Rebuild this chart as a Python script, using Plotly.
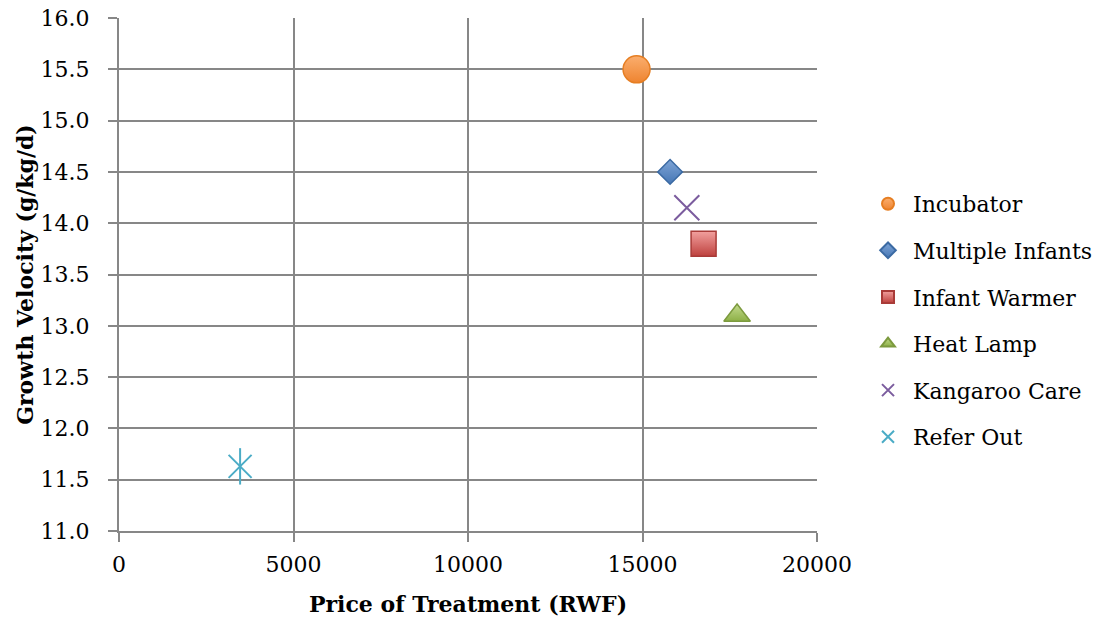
import plotly.graph_objects as go

# Treatment options: price (RWF) vs. growth velocity (g/kg/d)
treatments = ["Incubator", "Multiple Infants", "Infant Warmer", "Heat Lamp", "Kangaroo Care", "Refer Out"]
price_rwf = [14830, 15790, 16750, 17710, 16270, 3470]
growth_velocity = [15.5, 14.5, 13.8, 13.1, 14.15, 11.63]

x_ticks = [0, 5000, 10000, 15000, 20000]
y_ticks = [11.0, 11.5, 12.0, 12.5, 13.0, 13.5, 14.0, 14.5, 15.0, 15.5, 16.0]

styles = {
    "Incubator": dict(symbol="circle", size=27, color="#FBAE6E",
                      gradient=dict(type="vertical", color="#EE8430"),
                      line=dict(color="#E67E22", width=1.5)),
    "Multiple Infants": dict(symbol="diamond", size=19, color="#7EA4D6",
                             gradient=dict(type="vertical", color="#4677B5"),
                             line=dict(color="#3B6AA3", width=1.5)),
    "Infant Warmer": dict(symbol="square", size=25, color="#F2A09E",
                          gradient=dict(type="vertical", color="#BE413E"),
                          line=dict(color="#A93B38", width=1.5)),
    "Heat Lamp": dict(symbol="triangle-up", size=23, color="#C3DB8E",
                      gradient=dict(type="vertical", color="#8DB046"),
                      line=dict(color="#7C9A3E", width=1.5)),
    "Kangaroo Care": dict(symbol="x-thin-open", size=25, color="#7B5C9E",
                          line=dict(color="#7B5C9E", width=2)),
    "Refer Out": dict(symbol="x-thin-open", size=23, color="#4BACC6",
                      line=dict(color="#4BACC6", width=2)),
}

font_family = "DejaVu Serif"
fig = go.Figure()

for name, px, gv in zip(treatments, price_rwf, growth_velocity):
    fig.add_trace(go.Scatter(
        x=[px], y=[gv], mode="markers", name=name,
        legendgroup=name, marker=styles[name],
    ))
    if name == "Refer Out":
        # vertical stroke completes the star marker
        fig.add_trace(go.Scatter(
            x=[px], y=[gv], mode="markers", showlegend=False, legendgroup=name,
            marker=dict(symbol="line-ns-open", size=26, color="#4BACC6",
                        line=dict(color="#4BACC6", width=2)),
        ))

axis_common = dict(
    showgrid=True, gridcolor="#878787", gridwidth=2,
    showline=True, linecolor="#878787", linewidth=2,
    ticks="outside", ticklen=9, tickcolor="#878787", tickwidth=2,
    zeroline=False, automargin=False,
    tickfont=dict(family=font_family, size=22, color="#000000"),
)

fig.update_xaxes(
    range=[0, 20000], tickvals=x_ticks, ticktext=[str(v) for v in x_ticks],
    ticklabelstandoff=4,
    title=dict(text="<b>Price of Treatment (RWF)</b>",
               font=dict(family=font_family, size=22, color="#000000"), standoff=20),
    **axis_common,
)
fig.update_yaxes(
    range=[11.0, 16.0], tickvals=y_ticks, ticktext=[f"{v:.1f}" for v in y_ticks],
    ticklabelstandoff=14,
    title=dict(text="<b>Growth Velocity (g/kg/d)</b>",
               font=dict(family=font_family, size=22, color="#000000"), standoff=1),
    **axis_common,
)

fig.update_layout(
    width=1105, height=621,
    margin=dict(l=119, r=288, t=18, b=90),
    plot_bgcolor="#FFFFFF", paper_bgcolor="#FFFFFF",
    legend=dict(
        xref="container", yref="container",
        x=0.781, y=0.484, xanchor="left", yanchor="middle",
        font=dict(family=font_family, size=22, color="#000000"),
        traceorder="grouped", tracegroupgap=15, itemsizing="constant",
        itemwidth=40, bgcolor="rgba(0,0,0,0)",
    ),
)

fig.write_html("out.html")
